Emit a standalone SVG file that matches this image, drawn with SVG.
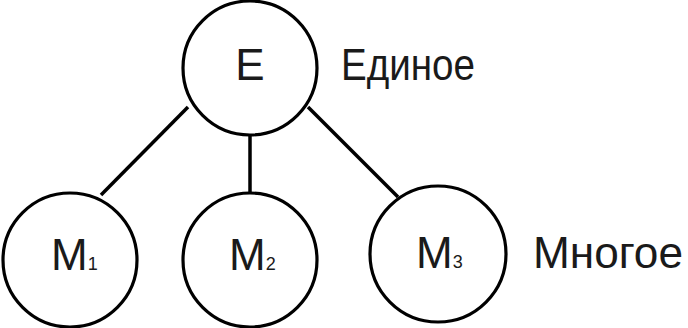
<svg xmlns="http://www.w3.org/2000/svg" width="688" height="328" viewBox="0 0 688 328">
<style>
.node{fill:#fff;stroke:#000;stroke-width:3.2}
.edge{stroke:#000;stroke-width:3.5;fill:none}
.t{font-family:"Liberation Sans","DejaVu Sans",sans-serif;font-size:44px;fill:#1a1a1a}
.sub{font-size:18px}
</style>
<rect width="688" height="328" fill="#fff"/>
<g id="connectors">
<line class="edge" x1="188" y1="107" x2="101" y2="195"/>
<line class="edge" x1="250" y1="135" x2="250" y2="193"/>
<line class="edge" x1="308" y1="107" x2="398" y2="197"/>
</g>
<g id="E">
<circle class="node" cx="250" cy="68" r="67"/>
<text class="t" x="250" y="80" text-anchor="middle">Е</text>
</g>
<g id="M1">
<circle class="node" cx="70" cy="260" r="67"/>
<text class="t" x="51" y="270">М<tspan class="sub">1</tspan></text>
</g>
<g id="M2">
<circle class="node" cx="250" cy="260" r="67"/>
<text class="t" x="229" y="270">М<tspan class="sub">2</tspan></text>
</g>
<g id="M3">
<circle class="node" cx="438" cy="254" r="68"/>
<text class="t" x="416" y="268">М<tspan class="sub">3</tspan></text>
</g>
<g id="labels">
<text class="t" x="341" y="80" textLength="134" lengthAdjust="spacingAndGlyphs">Единое</text>
<text class="t" x="533" y="268" textLength="150" lengthAdjust="spacingAndGlyphs">Многое</text>
</g>
</svg>
